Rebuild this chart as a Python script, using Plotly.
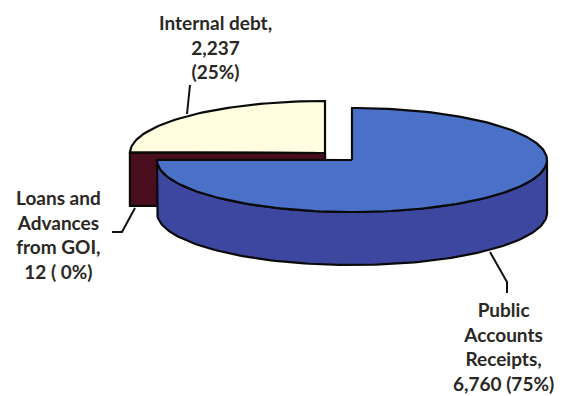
import numpy as np
import plotly.graph_objects as go

# ---------------- data ----------------
categories = ["Public Accounts Receipts", "Loans and Advances from GOI", "Internal debt"]
label_names = ["Public<br>Accounts<br>Receipts,", "Loans and<br>Advances<br>from GOI,", "Internal debt,"]
values = [6760, 12, 2237]
value_pct_sep = [" ", " ", "<br>"]

# ---------------- style / layout ----------------
top_colors = ["#4A70C8", "#4A0E1E", "#FFFEE0"]
side_colors = ["#3E47A0", "#4A0E1E", "#E9E5C0"]
RX, RY, DEPTH = 195, 52, 53
centers = [(352, 160), (325, 153), (325, 153)]          # exploded slice centres (pixel space)
label_pos = [(503, 346), (58, 234), (215, 47)]
leaders = [[(490, 252), (507, 282), (507, 293)],
           [(135, 208), (122, 232), (112, 232)],
           [(190, 85), (187, 114)]]

W, H = 563, 396
total = sum(values)
fracs = [v / total for v in values]
starts = np.concatenate([[0], np.cumsum(fracs)[:-1]]) * 360
ends = np.cumsum(fracs) * 360


def pt(c, th, dy=0):
    t = np.radians(th)
    return c[0] + RX * np.sin(t), c[1] - RY * np.cos(t) + dy


def arc(c, a0, a1, dy=0):
    th = np.linspace(a0, a1, max(2, int(abs(a1 - a0) / 1.5) + 2))
    xs, ys = pt(c, th, dy)
    return list(xs), list(ys)


fig = go.Figure()


def poly(xs, ys, fill, lw=2.2):
    fig.add_trace(go.Scatter(x=xs + [xs[0]], y=ys + [ys[0]], mode="lines", fill="toself",
                             fillcolor=fill, line=dict(color="#0a0a0a", width=lw),
                             hoverinfo="skip", showlegend=False))


# draw order: back slices first
order = [2, 1, 0]
for i in order:
    c = centers[i]
    a0, a1 = starts[i], ends[i]
    # radial face at start angle if it faces the viewer
    if 180 <= a0 <= 360 and i != 0:
        px, py = pt(c, a0)
        xs = [c[0], px, px, c[0]]
        ys = [c[1], py, py + DEPTH, c[1] + DEPTH]
        poly(xs, ys, side_colors[i])
    # outer wall for the front half (90..270)
    w0, w1 = max(a0, 90), min(a1, 270)
    if w1 > w0:
        tx, ty = arc(c, w0, w1)
        bx, by = arc(c, w1, w0, DEPTH)
        poly(tx + bx, ty + by, side_colors[i])
    # top surface
    tx, ty = arc(c, a0, a1)
    poly([c[0]] + tx, [c[1]] + ty, top_colors[i])

# leader lines
for pts in leaders:
    fig.add_trace(go.Scatter(x=[p[0] for p in pts], y=[p[1] for p in pts], mode="lines",
                             line=dict(color="#111111", width=2), hoverinfo="skip",
                             showlegend=False))

# labels
for i in range(len(values)):
    pct = round(fracs[i] * 100)
    txt = f"{label_names[i]}<br>{values[i]:,}{value_pct_sep[i]}({pct:2d}%)"
    fig.add_annotation(x=label_pos[i][0], y=label_pos[i][1], text=f"<b>{txt}</b>",
                       showarrow=False, xanchor="center", yanchor="middle", align="center",
                       font=dict(family="Lato", size=19, color="#2a2824"))

fig.update_layout(width=W, height=H, margin=dict(l=0, r=0, t=0, b=0),
                  paper_bgcolor="white", plot_bgcolor="white",
                  xaxis=dict(range=[0, W], visible=False, fixedrange=True),
                  yaxis=dict(range=[H, 0], visible=False, fixedrange=True))

fig.write_html("out.html", config={"displayModeBar": False},
               post_script="document.body.style.margin='0';document.body.style.overflow='hidden';")
